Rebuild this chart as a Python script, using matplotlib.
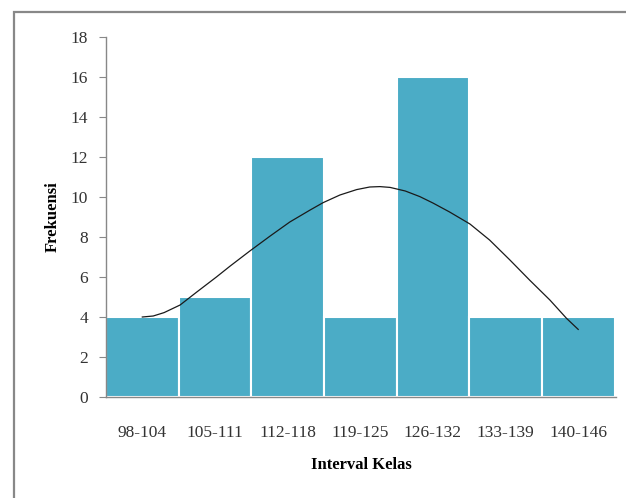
import matplotlib
matplotlib.use("Agg")
import matplotlib.pyplot as plt
from matplotlib.patches import Rectangle
import numpy as np

kelas = ["98-104", "105-111", "112-118", "119-125", "126-132", "133-139", "140-146"]
frekuensi = [4, 5, 12, 4, 16, 4, 4]

# curve (x in class-index units)
kurva_x = [0.0, 0.15, 0.3, 0.52, 0.75, 1.02, 1.21, 1.48, 1.76, 2.03, 2.31, 2.49, 2.72,
           2.95, 3.13, 3.27, 3.41, 3.62, 3.82, 4.0, 4.23, 4.51, 4.78, 5.06, 5.33,
           5.61, 5.84, 6.0]
kurva_y = [4.0, 4.05, 4.22, 4.6, 5.25, 6.0, 6.55, 7.3, 8.05, 8.75, 9.35, 9.72, 10.1,
           10.37, 10.5, 10.52, 10.48, 10.3, 10.02, 9.7, 9.25, 8.65, 7.85, 6.85, 5.85,
           4.85, 3.93, 3.38]

serif = "Liberation Serif"

fig = plt.figure(figsize=(6.26, 4.98), dpi=100)
ax = fig.add_axes([0.1693, 0.2028, 0.8147, 0.7229])

x = np.arange(len(kelas))
ax.bar(x, frekuensi, width=1.0, color="#4BACC6", edgecolor="white", linewidth=1.5, zorder=2)
ax.plot(kurva_x, kurva_y, color="#1a1a1a", linewidth=0.9, zorder=3)

ax.set_xlim(-0.5, 6.52)
ax.set_ylim(0, 18)
ax.set_yticks(range(0, 19, 2))
ax.set_xticks(x)
ax.set_xticklabels(kelas)
ax.tick_params(axis="x", length=0, pad=20)
ax.tick_params(axis="y", length=5, direction="out", color="#888888", pad=8)
for lab in ax.get_xticklabels() + ax.get_yticklabels():
    lab.set_fontfamily(serif)
    lab.set_fontsize(12.5)
    lab.set_color("#333333")

for s in ["top", "right"]:
    ax.spines[s].set_visible(False)
for s in ["left", "bottom"]:
    ax.spines[s].set_color("#888888")
    ax.spines[s].set_linewidth(1.0)

ax.set_xlabel("Interval Kelas", fontfamily=serif, fontsize=12, fontweight="bold", labelpad=12)
ax.set_ylabel("Frekuensi", fontfamily=serif, fontsize=12, fontweight="bold", labelpad=7)

# outer frame (right and bottom run off the image)
fig.patches.append(Rectangle((14 / 626, -0.02), 1.0, 1 - 12 / 498 + 0.02,
                             transform=fig.transFigure, fill=False,
                             edgecolor="#888888", linewidth=1.6))

fig.savefig("out.png", dpi=100)
